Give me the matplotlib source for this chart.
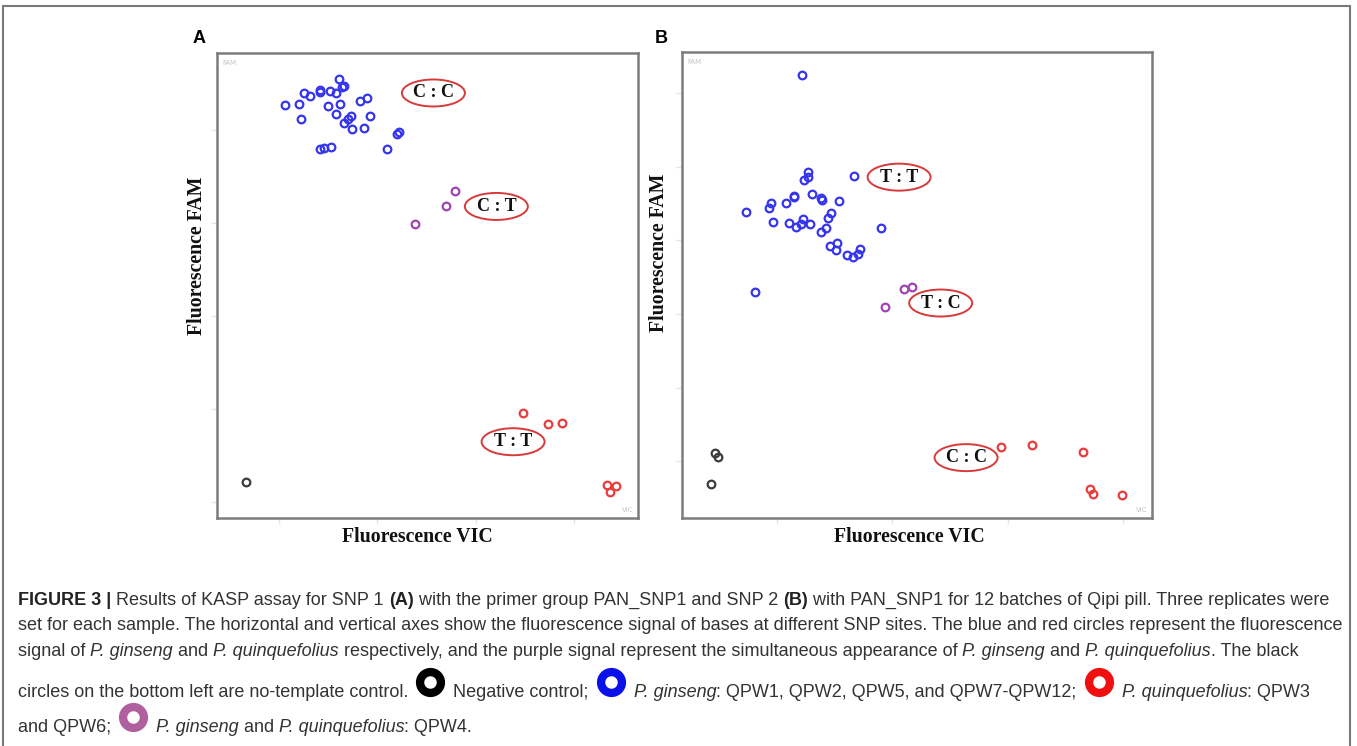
import matplotlib.pyplot as plt
from matplotlib.patches import Ellipse, Rectangle
from matplotlib.lines import Line2D

W, H = 1357, 746

# Panel A (SNP 1) - relative fluorescence, arbitrary units
a_blue_x = [1.61, 1.64, 1.66, 1.42, 1.42, 1.52, 1.58, 1.25, 1.32, 1.89, 1.82, 1.06, 1.20, 1.50, 1.62,
            1.22, 1.58, 1.73, 1.70, 1.66, 1.93, 1.74, 1.86, 2.22, 2.20, 1.42, 1.46, 1.53, 2.10]
a_blue_y = [5.55, 5.46, 5.47, 5.43, 5.41, 5.42, 5.40, 5.40, 5.37, 5.35, 5.31, 5.27, 5.28, 5.26, 5.28,
            5.12, 5.17, 5.15, 5.12, 5.08, 5.15, 5.01, 5.02, 4.98, 4.96, 4.80, 4.81, 4.82, 4.80]
a_purple_x = [2.79, 2.70, 2.38]
a_purple_y = [4.35, 4.18, 3.99]
a_red_x = [3.48, 3.74, 3.88, 4.33, 4.43, 4.37]
a_red_y = [1.96, 1.84, 1.85, 1.19, 1.17, 1.11]
a_ntc_x = [0.66]
a_ntc_y = [1.22]
a_labels = ["C : C", "C : T", "T : T"]
a_label_x = [2.57, 3.21, 3.38]
a_label_y = [5.40, 4.18, 1.65]

# Panel B (SNP 2)
b_blue_x = [1.22, 1.27, 1.27, 1.24, 1.67, 1.15, 1.15, 1.31, 1.38, 1.39, 1.54, 0.95, 0.93, 1.08, 0.73, 1.47, 1.44,
            0.97, 1.11, 1.17, 1.21, 1.23, 1.29, 1.43, 1.38, 1.90, 1.52, 1.46, 1.51, 1.61, 1.66, 1.70, 1.72, 0.81]
b_blue_y = [6.25, 4.93, 4.86, 4.82, 4.87, 4.61, 4.59, 4.63, 4.58, 4.55, 4.54, 4.51, 4.44, 4.51, 4.39, 4.37, 4.31,
            4.25, 4.24, 4.18, 4.22, 4.29, 4.22, 4.17, 4.12, 4.17, 3.97, 3.92, 3.87, 3.80, 3.78, 3.81, 3.89, 3.30]
b_purple_x = [2.10, 2.17, 1.94]
b_purple_y = [3.34, 3.37, 3.09]
b_red_x = [2.94, 3.21, 3.65, 3.71, 3.74, 3.99]
b_red_y = [1.19, 1.22, 1.13, 0.62, 0.55, 0.54]
b_ntc_x = [0.47, 0.49, 0.43]
b_ntc_y = [1.11, 1.06, 0.69]
b_labels = ["T : T", "T : C", "C : C"]
b_label_x = [2.06, 2.42, 2.64]
b_label_y = [4.86, 3.15, 1.05]

BLUE, PURPLE, RED, BLACK = '#3535ee', '#a044b4', '#ea3c3c', '#3c3c3c'


def px(x, y):
    return x / W, 1 - y / H


fig = plt.figure(figsize=(W / 100, H / 100), dpi=100)

# outer frame of the figure
fig.add_artist(Rectangle(px(3, 760), 1347 / W, 754 / H, transform=fig.transFigure,
                         fill=False, edgecolor='#7a7a7a', lw=1.5))


def panel(box, xlim, ylim, xt, yt, groups, labels, lx, ly):
    l, t, r, b = box
    ax = fig.add_axes([l / W, 1 - b / H, (r - l) / W, (b - t) / H])
    for x, y, c in groups:
        ax.plot(x, y, 'o', ms=5.5, mfc='none', mec=c, mew=1.6, ls='none')
    ax.set_xlim(xlim)
    ax.set_ylim(ylim)
    ax.set_xticks(xt)
    ax.set_yticks(yt)
    ax.tick_params(length=4, width=1, color='#e6e6e6', labelbottom=False, labelleft=False)
    for s in ax.spines.values():
        s.set_color('#7c7c7c')
        s.set_linewidth(1.8)
    # ellipse size in pixels -> data units
    ew = 63 * (xlim[1] - xlim[0]) / (r - l)
    eh = 27 * (ylim[1] - ylim[0]) / (b - t)
    for s, x, y in zip(labels, lx, ly):
        ax.add_patch(Ellipse((x, y), ew, eh, fill=False, edgecolor='#d83a3a', lw=1.4))
        ax.text(x, y, s, ha='center', va='center', fontsize=13, fontweight='bold',
                family='Liberation Serif', color='#111111')
    ax.text(0.012, 0.985, 'FAM', transform=ax.transAxes, fontsize=5, color='#c4c4c4', va='top')
    ax.text(0.99, 0.012, 'VIC', transform=ax.transAxes, fontsize=5, color='#c4c4c4', ha='right')
    return ax


panel((217, 53, 638, 518), (0.37, 4.65), (0.83, 5.83), [1, 2, 3, 4], [1, 2, 3, 4, 5],
      [(a_blue_x, a_blue_y, BLUE), (a_purple_x, a_purple_y, PURPLE),
       (a_red_x, a_red_y, RED), (a_ntc_x, a_ntc_y, BLACK)],
      a_labels, a_label_x, a_label_y)
panel((682, 52, 1152, 518), (0.18, 4.25), (0.23, 6.56), [1, 2, 3, 4], [1, 2, 3, 4, 5, 6],
      [(b_blue_x, b_blue_y, BLUE), (b_purple_x, b_purple_y, PURPLE),
       (b_red_x, b_red_y, RED), (b_ntc_x, b_ntc_y, BLACK)],
      b_labels, b_label_x, b_label_y)

# axis titles and panel letters
lab = dict(fontsize=14.3, fontweight='bold', family='Liberation Serif', color='#111111',
           ha='center', va='center')
fig.text(*px(417, 537), 'Fluorescence VIC', **lab)
fig.text(*px(909, 537), 'Fluorescence VIC', **lab)
fig.text(*px(197, 256), 'Fluorescence FAM', rotation=90, **lab)
fig.text(*px(659, 253), 'Fluorescence FAM', rotation=90, **lab)
fig.text(*px(199.5, 38.5), 'A', fontsize=13, fontweight='bold', family='Liberation Sans',
         ha='center', va='center')
fig.text(*px(661.5, 38.5), 'B', fontsize=13, fontweight='bold', family='Liberation Sans',
         ha='center', va='center')

# caption, laid out piece by piece
renderer = fig.canvas.get_renderer()
CAP = 12.95


def flow(x, y, parts):
    for p in parts:
        if p[0] == 'icon':
            fig.add_artist(Line2D([(x + 22) / W], [1 - (y - 15) / H], marker='o', ms=15, mfc='none',
                                  mec=p[1], mew=6, transform=fig.transFigure))
            x += 45
            continue
        s, st = p
        t = fig.text(*px(x, y), s, fontsize=CAP, family='Liberation Sans', va='baseline',
                     color='#222222' if st == 'b' else '#333333',
                     fontweight='bold' if st == 'b' else 'normal',
                     style='italic' if st == 'i' else 'normal')
        x += t.get_window_extent(renderer).width


flow(18, 605, [("FIGURE 3 | ", 'b'), ("Results of KASP assay for SNP 1 ", 'r'), ("(A)", 'b'),
               (" with the primer group PAN_SNP1 and SNP 2 ", 'r'), ("(B)", 'b'),
               (" with PAN_SNP1 for 12 batches of Qipi pill. Three replicates were", 'r')])
flow(18, 630, [("set for each sample. The horizontal and vertical axes show the fluorescence signal of bases "
                "at different SNP sites. The blue and red circles represent the fluorescence", 'r')])
flow(18, 656, [("signal of ", 'r'), ("P. ginseng", 'i'), (" and ", 'r'), ("P. quinquefolius", 'i'),
               (" respectively, and the purple signal represent the simultaneous appearance of ", 'r'),
               ("P. ginseng", 'i'), (" and ", 'r'), ("P. quinquefolius", 'i'), (". The black", 'r')])
flow(18, 697, [("circles on the bottom left are no-template control.", 'r'), ('icon', '#000000'),
               ("Negative control;", 'r'), ('icon', '#0a10e8'), ("P. ginseng", 'i'),
               (": QPW1, QPW2, QPW5, and QPW7-QPW12;", 'r'), ('icon', '#f01010'),
               ("P. quinquefolius", 'i'), (": QPW3", 'r')])
flow(18, 732, [("and QPW6;", 'r'), ('icon', '#b0609e'), ("P. ginseng", 'i'), (" and ", 'r'),
               ("P. quinquefolius", 'i'), (": QPW4.", 'r')])

fig.savefig('out.png', dpi=100)
